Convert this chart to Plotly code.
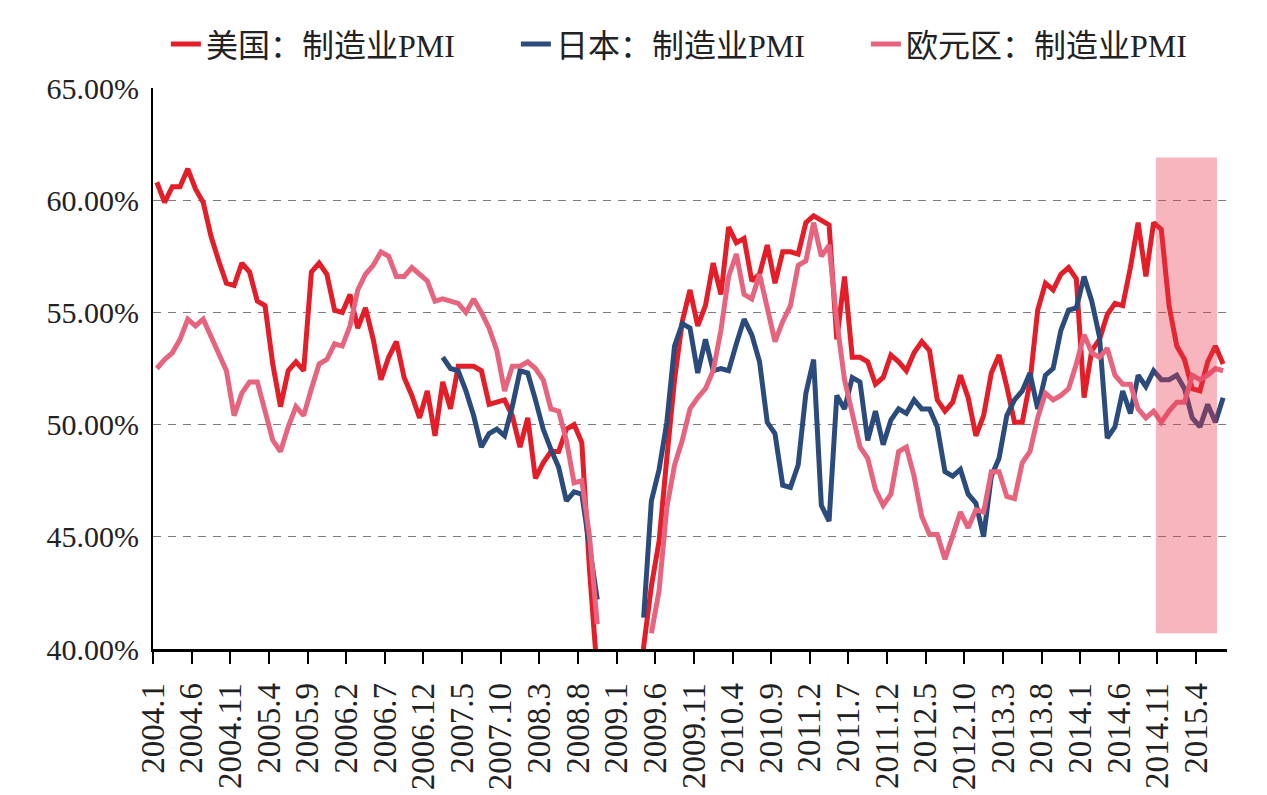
import plotly.graph_objects as go

# month index 0 = 2004.1 ... 138 = 2015.7
tick_labels = ["2004.1", "2004.6", "2004.11", "2005.4", "2005.9", "2006.2", "2006.7",
               "2006.12", "2007.5", "2007.10", "2008.3", "2008.8", "2009.1", "2009.6",
               "2009.11", "2010.4", "2010.9", "2011.2", "2011.7", "2011.12", "2012.5",
               "2012.10", "2013.3", "2013.8", "2014.1", "2014.6", "2014.11", "2015.4"]

us_pmi = [
    60.8, 59.9, 60.6, 60.6, 61.4, 60.5, 59.9, 58.4, 57.3, 56.3, 56.2, 57.2,
    56.8, 55.5, 55.3, 52.7, 50.8, 52.4, 52.8, 52.4, 56.8, 57.2, 56.7, 55.1,
    55.0, 55.8, 54.3, 55.2, 53.8, 52.0, 53.0, 53.7, 52.1, 51.3, 50.3, 51.5,
    49.5, 51.9, 50.7, 52.6, 52.6, 52.6, 52.4, 50.9, 51.0, 51.1, 50.4, 49.0,
    50.3, 47.6, 48.3, 48.8, 48.8, 49.8, 50.0, 49.2, 43.5, 38.9, 36.2, 32.4,
    35.6, 35.8, 36.3, 40.1, 42.8, 44.8, 48.5, 52.0, 54.6, 56.0, 54.4, 55.3,
    57.2, 55.8, 58.8, 58.1, 58.3, 56.4, 56.7, 58.0, 56.3, 57.7, 57.7, 57.6,
    59.0, 59.3, 59.1, 58.9, 53.8, 56.6, 53.0, 53.0, 52.8, 51.8, 52.1, 53.1,
    52.8, 52.4, 53.2, 53.7, 53.3, 51.1, 50.6, 51.0, 52.2, 51.2, 49.5, 50.4,
    52.3, 53.1, 51.7, 50.1, 50.1, 51.9, 55.1, 56.3, 56.0, 56.7, 57.0, 56.5,
    51.2, 53.3, 53.8, 54.9, 55.4, 55.3, 57.0, 59.0, 56.6, 59.0, 58.7, 55.3,
    53.5, 52.9, 51.6, 51.5, 52.8, 53.5, 52.7,
]

japan_pmi = [None] * 37 + [
    53.0, 52.5, 52.4, 51.5, 50.4, 49.0, 49.6, 49.8, 49.5, 50.8, 52.4,
    52.3, 51.1, 49.8, 48.9, 48.1, 46.6, 47.0, 46.9, 44.6, 42.2,
    None, None, None, None, None,
    41.4, 46.6, 48.0, 50.1, 53.5, 54.5, 54.3, 52.3, 53.8,
    52.4, 52.5, 52.4, 53.6, 54.7, 54.0, 52.8, 50.1, 49.6, 47.3, 47.2, 48.2,
    51.4, 52.9, 46.4, 45.7, 51.3, 50.7, 52.1, 51.9, 49.3, 50.6, 49.1, 50.2,
    50.7, 50.5, 51.1, 50.7, 50.7, 49.9, 47.9, 47.7, 48.0, 46.9, 46.5, 45.0,
    47.7, 48.5, 50.4, 51.1, 51.5, 52.3, 50.7, 52.2, 52.5, 54.2, 55.1, 55.2,
    56.6, 55.5, 53.9, 49.4, 49.9, 51.5, 50.5, 52.2, 51.7, 52.4, 52.0, 52.0,
    52.2, 51.6, 50.3, 49.9, 50.9, 50.1, 51.2,
]

euro_pmi = [
    52.5, 52.9, 53.2, 53.8, 54.7, 54.4, 54.7, 53.9, 53.2, 52.4, 50.4, 51.4,
    51.9, 51.9, 50.6, 49.3, 48.8, 49.9, 50.8, 50.4, 51.6, 52.7, 52.9, 53.6,
    53.5, 54.4, 56.0, 56.7, 57.1, 57.7, 57.5, 56.6, 56.6, 57.0, 56.7, 56.4,
    55.5, 55.6, 55.5, 55.4, 55.0, 55.6, 55.0, 54.3, 53.3, 51.5, 52.6, 52.6,
    52.8, 52.5, 52.0, 50.7, 50.6, 49.3, 47.4, 47.5, 45.0, 41.1,
    None, None, None, None, None, None,
    40.7, 42.6, 46.3, 48.2, 49.3, 50.7, 51.2, 51.6,
    52.4, 54.2, 56.6, 57.6, 55.8, 55.6, 56.7, 55.1, 53.7, 54.6, 55.3, 57.1,
    57.3, 59.0, 57.5, 58.0, 54.6, 52.0, 50.4, 49.0, 48.5, 47.1, 46.4, 46.9,
    48.8, 49.0, 47.7, 45.9, 45.1, 45.1, 44.0, 45.1, 46.1, 45.4, 46.2, 46.1,
    47.9, 47.9, 46.8, 46.7, 48.3, 48.8, 50.3, 51.4, 51.1, 51.3, 51.6, 52.7,
    54.0, 53.2, 53.0, 53.4, 52.2, 51.8, 51.8, 50.7, 50.3, 50.6, 50.1, 50.6,
    51.0, 51.0, 52.2, 52.0, 52.2, 52.5, 52.4,
]

series_names = ["美国：制造业PMI", "日本：制造业PMI", "欧元区：制造业PMI"]
series_colors = ["#E31E28", "#2B4B7D", "#E7647F"]

# highlighted period (2014.11 onward)
highlight_x = (129.3, 137.2)
highlight_y = (40.7, 61.9)

n = len(us_pmi)
x_idx = list(range(n))
tick_idx = [i * 5 - 0.5 for i in range(len(tick_labels))]

FONT = "'Liberation Serif', 'Times New Roman', 'Noto Sans CJK SC', serif"

fig = go.Figure()
for name, vals, col in zip(series_names, [us_pmi, japan_pmi, euro_pmi], series_colors):
    fig.add_trace(go.Scatter(
        x=x_idx, y=vals, name=name, mode="lines",
        line=dict(color=col, width=5), connectgaps=False,
    ))

fig.add_shape(type="rect", xref="x", yref="y",
              x0=highlight_x[0], x1=highlight_x[1],
              y0=highlight_y[0], y1=highlight_y[1],
              fillcolor="rgba(232,52,72,0.36)", line=dict(width=0), layer="above")

fig.update_layout(
    width=1267, height=795,
    margin=dict(l=153, r=40, t=88, b=146, autoexpand=False),
    paper_bgcolor="white", plot_bgcolor="white",
    font=dict(family=FONT, color="#222222"),
    showlegend=True,
    legend=dict(orientation="h", x=0.012, xanchor="left", y=1.078, yanchor="middle",
                font=dict(size=32, family=FONT, color="#222222"),
                entrywidth=305, entrywidthmode="pixels",
                bgcolor="rgba(0,0,0,0)"),
    xaxis=dict(
        range=[-0.5, n - 0.5], tickmode="array", tickvals=tick_idx, ticktext=tick_labels,
        tickangle=-90, tickfont=dict(size=33, family=FONT, color="#222222"),
        ticks="outside", ticklen=12, tickwidth=2, tickcolor="black",
        showline=True, linecolor="black", linewidth=2.5, showgrid=False, zeroline=False,
        ticklabelstandoff=6, automargin=False,
    ),
    yaxis=dict(
        range=[40, 65], tick0=40, dtick=5, tickformat=".2f", ticksuffix="%",
        tickfont=dict(size=30, family=FONT, color="#222222"),
        showline=True, linecolor="black", linewidth=2,
        showgrid=True, gridcolor="#7d7d7d", gridwidth=1.3, griddash="8px,7px",
        zeroline=False, ticks="", ticklabelstandoff=6, automargin=False,
    ),
)

fig.write_html("out.html")
